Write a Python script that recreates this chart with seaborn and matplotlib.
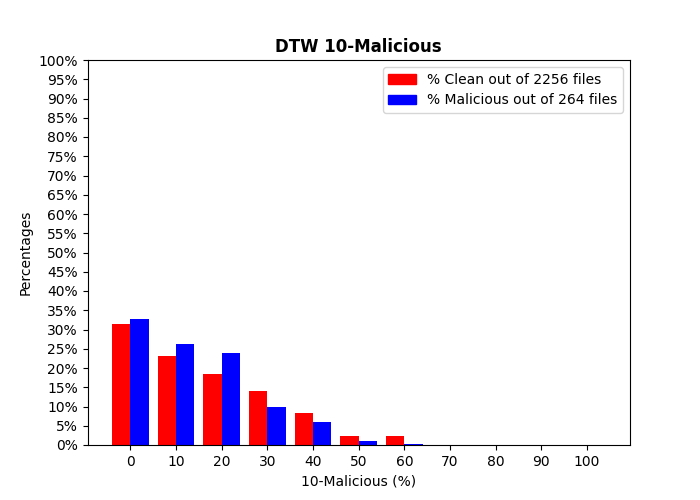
import pandas as pd
import matplotlib
matplotlib.use("Agg")
import matplotlib.pyplot as plt
import seaborn as sns
import numpy as np
from matplotlib.patches import Patch

bins = [0, 10, 20, 30, 40, 50, 60, 70, 80, 90, 100]
clean_pct = [31.4, 23.0, 18.4, 14.0, 8.2, 2.3, 2.3, 0, 0, 0, 0]
malicious_pct = [32.7, 26.2, 23.8, 9.8, 5.9, 1.0, 0.3, 0, 0, 0, 0]
clean_label = "% Clean out of 2256 files"
malicious_label = "% Malicious out of 264 files"
y_ticks = list(range(0, 101, 5))

df = pd.DataFrame({
    "bin": bins * 2,
    "pct": clean_pct + malicious_pct,
    "group": [clean_label] * len(bins) + [malicious_label] * len(bins),
})

fig, ax = plt.subplots(figsize=(7, 5), dpi=100)
sns.barplot(data=df, x="bin", y="pct", hue="group",
            hue_order=[clean_label, malicious_label],
            palette=["red", "blue"], native_scale=True,
            saturation=1, errorbar=None, legend=False,
            linewidth=0, ax=ax)

ax.set_ylim(0, 100)
ax.set_yticks(y_ticks)
ax.set_yticklabels([f"{v}%" for v in y_ticks])
ax.set_xticks(bins)
ax.set_xticklabels([str(b) for b in bins])
ax.set_xlabel("10-Malicious (%)")
ax.set_ylabel("Percentages")
ax.set_title("DTW 10-Malicious", fontweight="bold")
ax.legend(handles=[Patch(color="red"), Patch(color="blue")],
          labels=[clean_label, malicious_label], loc="upper right")

plt.savefig("out.png", dpi=100)
